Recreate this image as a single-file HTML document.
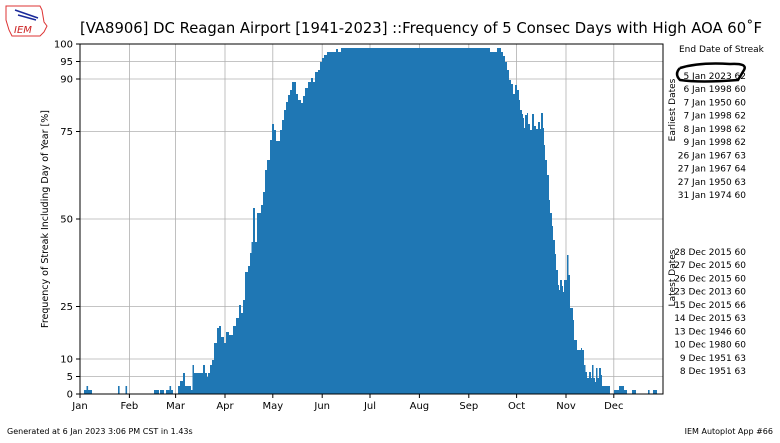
<!DOCTYPE html>
<html><head><meta charset="utf-8"><style>
body{margin:0;background:#fff;}
svg text{font-family:"DejaVu Sans","Liberation Sans",sans-serif;}
</style></head><body>
<svg width="780" height="438" viewBox="0 0 780 438" xmlns="http://www.w3.org/2000/svg">
<rect width="780" height="438" fill="#fff"/>
<path d="M6 6 L40 6 L42 10 L44 22 L47 26 L44 32 L40 36 L12 36 L9 30 L6 20 Z" fill="none" stroke="#d33" stroke-width="1"/>
<line x1="15" y1="10" x2="38" y2="18" stroke="#1a2a9a" stroke-width="1.5"/>
<line x1="18" y1="15" x2="36" y2="20" stroke="#1a2a9a" stroke-width="1.5"/>
<text x="14" y="33" font-size="10" font-style="italic" fill="#c22" font-family="Liberation Serif,serif">IEM</text>
<text x="421" y="33" font-size="14.8" text-anchor="middle" fill="#000">[VA8906] DC Reagan Airport [1941-2023] ::Frequency of 5 Consec Days with High AOA 60˚F</text>
<g stroke="#b0b0b0" stroke-width="0.8">
<line x1="80" y1="376.5" x2="663" y2="376.5"/><line x1="80" y1="359" x2="663" y2="359"/>
<line x1="80" y1="306.5" x2="663" y2="306.5"/><line x1="80" y1="219" x2="663" y2="219"/>
<line x1="80" y1="131.5" x2="663" y2="131.5"/><line x1="80" y1="79" x2="663" y2="79"/>
<line x1="80" y1="61.5" x2="663" y2="61.5"/>
<line x1="129.4" y1="44" x2="129.4" y2="394"/><line x1="175.6" y1="44" x2="175.6" y2="394"/>
<line x1="225" y1="44" x2="225" y2="394"/><line x1="272.8" y1="44" x2="272.8" y2="394"/>
<line x1="322.2" y1="44" x2="322.2" y2="394"/><line x1="370" y1="44" x2="370" y2="394"/>
<line x1="419.4" y1="44" x2="419.4" y2="394"/><line x1="468.8" y1="44" x2="468.8" y2="394"/>
<line x1="516.6" y1="44" x2="516.6" y2="394"/><line x1="566" y1="44" x2="566" y2="394"/>
<line x1="613.8" y1="44" x2="613.8" y2="394"/>
</g>
<g fill="#1f77b4">
<rect x="84" y="390" width="8" height="4"/><rect x="86.5" y="386" width="1.6" height="8"/>
<rect x="118" y="386" width="1.6" height="8"/><rect x="125.5" y="386" width="1.6" height="8"/>
<rect x="154" y="390" width="5" height="4"/><rect x="160" y="390" width="4" height="4"/>
<rect x="166" y="390" width="7" height="4"/><rect x="169.5" y="386" width="1.6" height="8"/>
<rect x="614" y="390" width="13" height="4"/><rect x="619" y="386" width="5" height="8"/>
<rect x="632" y="390" width="4" height="4"/><rect x="648" y="390" width="1.6" height="4"/>
<rect x="653" y="390" width="4" height="4"/>
<polygon points="178,394 178,386 180,386 180,381 183,381 183,373 185,373 185,386 191,386 191,390 192.5,390 192.5,365 194,365 194,373 203,373 203,365 205,365 205,373 207,373 207,377 208,377 208,373 210,373 210,365 212,365 212,360 214,360 214,343 217,343 217,328 219,328 219,326 221,326 221,337 224,337 224,343 226,343 226,332 229,332 229,335 233,335 233,326 236,326 236,318 239,318 239,305 241,305 241,313 243,313 243,300 245,300 245,272 248,272 248,266 250,266 250,253 251.5,253 251.5,242 253,242 253,208 255,208 255,242 257,242 257,213 261,213 261,205 263,205 263,192 265,192 265,170 267,170 267,160 270,160 270,140 272,140 272,124 274,124 274,130 276,130 276,141 280,141 280,130 282,130 282,120 284,120 284,110 286,110 286,102 288,102 288,95 290,95 290,90 292,90 292,82 296,82 296,94 298,94 298,100 301,100 301,103 303,103 303,96 305,96 305,88 308,88 308,82 311,82 311,78 313,78 313,82 315,82 315,72 318,72 318,70 320,70 320,62 322,62 322,58 324,58 324,55 327,55 327,52 336,52 336,49 338,49 338,52 341,52 341,48 490,48 490,52 497,52 497,48 501,48 501,52 503,52 503,56 505,56 505,62 507,62 507,70 509,70 509,80 511,80 511,84 513,84 513,94 515,94 515,85 517,85 517,90 519,90 519,100 520,100 520,110 522,110 522,114 523,114 523,118 524,118 524,128 525,128 525,115 527,115 527,113 528,113 528,124 530,124 530,130 532,130 532,114 534,114 534,126 536,126 536,129 538,129 538,122 540,122 540,129 541,129 541,113 543,113 543,128 544,128 544,145 545,145 545,160 547,160 547,175 549,175 549,200 550,200 550,213 552,213 552,226 553,226 553,240 555,240 555,254 556,254 556,270 558,270 558,285 559,285 559,290 560,290 560,280 562,280 562,286 563,286 563,292 564,292 564,280 567,280 567,255 568.5,255 568.5,275 570,275 570,308 573,308 573,320 574,320 574,340 577,340 577,350 581,350 581,348 582,348 582,350 584,350 584,365 585.5,365 585.5,372 587,372 587,378 589,378 589,372 591,372 591,378 592,378 592,365 593.5,365 593.5,378 595,378 595,382 596,382 596,368 597.5,368 597.5,378 599,378 599,368 601,368 601,375 602,375 602,386 610,386 610,394"/>
</g>
<rect x="80" y="44" width="583" height="350" fill="none" stroke="#000" stroke-width="1"/>
<g stroke="#000" stroke-width="1">
<line x1="76" y1="394" x2="80" y2="394"/><line x1="76" y1="376.5" x2="80" y2="376.5"/><line x1="76" y1="359" x2="80" y2="359"/>
<line x1="76" y1="306.5" x2="80" y2="306.5"/><line x1="76" y1="219" x2="80" y2="219"/><line x1="76" y1="131.5" x2="80" y2="131.5"/>
<line x1="76" y1="79" x2="80" y2="79"/><line x1="76" y1="61.5" x2="80" y2="61.5"/><line x1="76" y1="44" x2="80" y2="44"/>
<line x1="80" y1="394" x2="80" y2="398"/><line x1="129.4" y1="394" x2="129.4" y2="398"/><line x1="175.6" y1="394" x2="175.6" y2="398"/>
<line x1="225" y1="394" x2="225" y2="398"/><line x1="272.8" y1="394" x2="272.8" y2="398"/><line x1="322.2" y1="394" x2="322.2" y2="398"/>
<line x1="370" y1="394" x2="370" y2="398"/><line x1="419.4" y1="394" x2="419.4" y2="398"/><line x1="468.8" y1="394" x2="468.8" y2="398"/>
<line x1="516.6" y1="394" x2="516.6" y2="398"/><line x1="566" y1="394" x2="566" y2="398"/><line x1="613.8" y1="394" x2="613.8" y2="398"/>
</g>
<g font-size="10" text-anchor="end" fill="#000">
<text x="73" y="397.5">0</text><text x="73" y="380">5</text><text x="73" y="362.5">10</text>
<text x="73" y="310">25</text><text x="73" y="222.5">50</text><text x="73" y="135">75</text>
<text x="73" y="82.5">90</text><text x="73" y="65">95</text><text x="73" y="47.5">100</text>
</g>
<g font-size="10" text-anchor="middle" fill="#000">
<text x="80" y="409">Jan</text><text x="129.4" y="409">Feb</text><text x="175.6" y="409">Mar</text>
<text x="225" y="409">Apr</text><text x="272.8" y="409">May</text><text x="322.2" y="409">Jun</text>
<text x="370" y="409">Jul</text><text x="419.4" y="409">Aug</text><text x="468.8" y="409">Sep</text>
<text x="516.6" y="409">Oct</text><text x="566" y="409">Nov</text><text x="613.8" y="409">Dec</text>
</g>
<text transform="translate(48,219) rotate(-90)" font-size="9.5" text-anchor="middle">Frequency of Streak Including Day of Year [%]</text>
<text x="679" y="52" font-size="9">End Date of Streak</text>
<text transform="translate(675,110) rotate(-90)" font-size="9" text-anchor="middle">Earliest Dates</text>
<text transform="translate(675,278) rotate(-90)" font-size="9" text-anchor="middle">Latest Dates</text>
<g font-size="9" text-anchor="end">
<text x="746" y="79">5 Jan 2023 62</text><text x="746" y="92">6 Jan 1998 60</text><text x="746" y="105.5">7 Jan 1950 60</text>
<text x="746" y="118.5">7 Jan 1998 62</text><text x="746" y="132">8 Jan 1998 62</text><text x="746" y="145">9 Jan 1998 62</text>
<text x="746" y="158.5">26 Jan 1967 63</text><text x="746" y="171.5">27 Jan 1967 64</text><text x="746" y="185">27 Jan 1950 63</text>
<text x="746" y="198">31 Jan 1974 60</text>
<text x="746" y="255">28 Dec 2015 60</text><text x="746" y="268">27 Dec 2015 60</text><text x="746" y="281.5">26 Dec 2015 60</text>
<text x="746" y="294.5">23 Dec 2013 60</text><text x="746" y="308">15 Dec 2015 66</text><text x="746" y="321">14 Dec 2015 63</text>
<text x="746" y="334.5">13 Dec 1946 60</text><text x="746" y="347.5">10 Dec 1980 60</text><text x="746" y="361">9 Dec 1951 63</text>
<text x="746" y="374">8 Dec 1951 63</text>
</g>
<path d="M680 68 Q700 62 730 64 Q748 63 744 70 L738 80 Q700 83 680 80 Q674 74 680 68" fill="none" stroke="#000" stroke-width="2.5"/>
<text x="7" y="434" font-size="8">Generated at 6 Jan 2023 3:06 PM CST in 1.43s</text>
<text x="773" y="434" font-size="8" text-anchor="end">IEM Autoplot App #66</text>
</svg>
</body></html>
